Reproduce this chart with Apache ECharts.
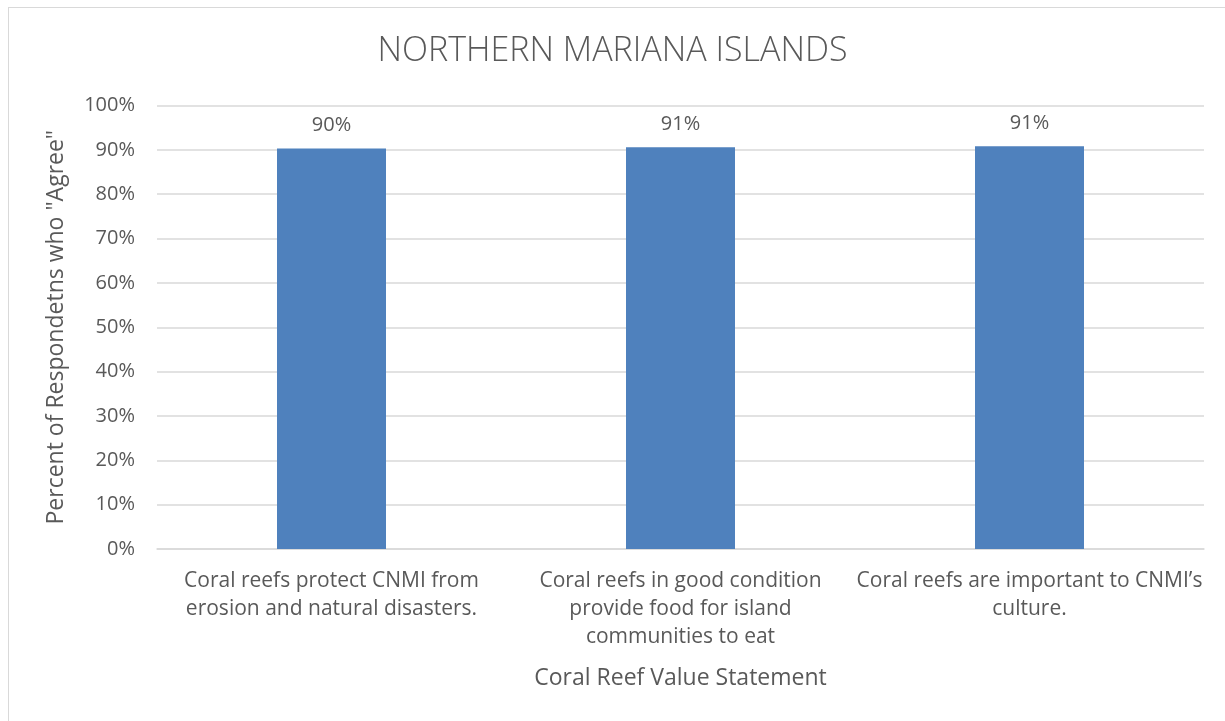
<!DOCTYPE html>
<html>
<head>
<meta charset="utf-8">
<script src="https://cdn.jsdelivr.net/npm/echarts@6/dist/echarts.min.js"></script>
<style>
html,body{margin:0;padding:0;background:#fff;overflow:hidden;}
#frame{position:absolute;left:8px;top:7px;width:1240px;height:740px;border:1px solid #d9d9d9;box-sizing:border-box;}
#chart{position:absolute;left:0;top:0;width:1225px;height:721px;}
</style>
</head>
<body>
<div id="frame"></div>
<div id="chart"></div>
<script>
const titleText = 'NORTHERN MARIANA ISLANDS';
const categories = [
  'Coral reefs protect CNMI from\nerosion and natural disasters.',
  'Coral reefs in good condition\nprovide food for island\ncommunities to eat',
  'Coral reefs are important to CNMI\u2019s\nculture.'
];
const agreeValues = [0.903, 0.906, 0.908];
const valueLabels = ['90%', '91%', '91%'];
const yAxisName = 'Percent of Respondetns who "Agree"';
const xAxisName = 'Coral Reef Value Statement';

const FONT = 'Open Sans';
const TXT = '#595959';
const chart = echarts.init(document.getElementById('chart'), null, {renderer: 'canvas'});
chart.setOption({
  backgroundColor: 'transparent',
  animation: false,
  textStyle: {fontFamily: FONT, color: TXT},
  title: {
    text: titleText, left: 'center', top: 29,
    textStyle: {fontFamily: FONT, fontSize: 34, fontWeight: 300, color: TXT}
  },
  grid: {left: 157, right: 21, top: 105.5, bottom: 172, containLabel: false},
  xAxis: {
    type: 'category', data: categories,
    axisLine: {lineStyle: {color: '#d9d9d9', width: 1.5}},
    axisTick: {show: false},
    axisLabel: {fontFamily: FONT, fontSize: 21, color: TXT, lineHeight: 28, margin: 18, interval: 0},
    name: xAxisName, nameLocation: 'middle', nameGap: 118,
    nameTextStyle: {fontFamily: FONT, fontSize: 23, color: TXT}
  },
  yAxis: {
    type: 'value', min: 0, max: 1, interval: 0.1,
    axisLine: {show: false}, axisTick: {show: false},
    splitLine: {lineStyle: {color: '#d9d9d9', width: 1.5}},
    axisLabel: {fontFamily: FONT, fontSize: 20, color: TXT, margin: 22,
      formatter: v => Math.round(v * 100) + '%'},
    name: yAxisName, nameLocation: 'middle', nameGap: 89, nameRotate: 90,
    nameTextStyle: {fontFamily: FONT, fontSize: 23, color: TXT}
  },
  series: [{
    type: 'bar', data: agreeValues, barWidth: 109,
    itemStyle: {color: '#4F81BD'},
    label: {show: true, position: 'top', distance: 13, fontFamily: FONT, fontSize: 20, color: TXT,
      formatter: p => valueLabels[p.dataIndex]}
  }]
});
</script>
</body>
</html>
